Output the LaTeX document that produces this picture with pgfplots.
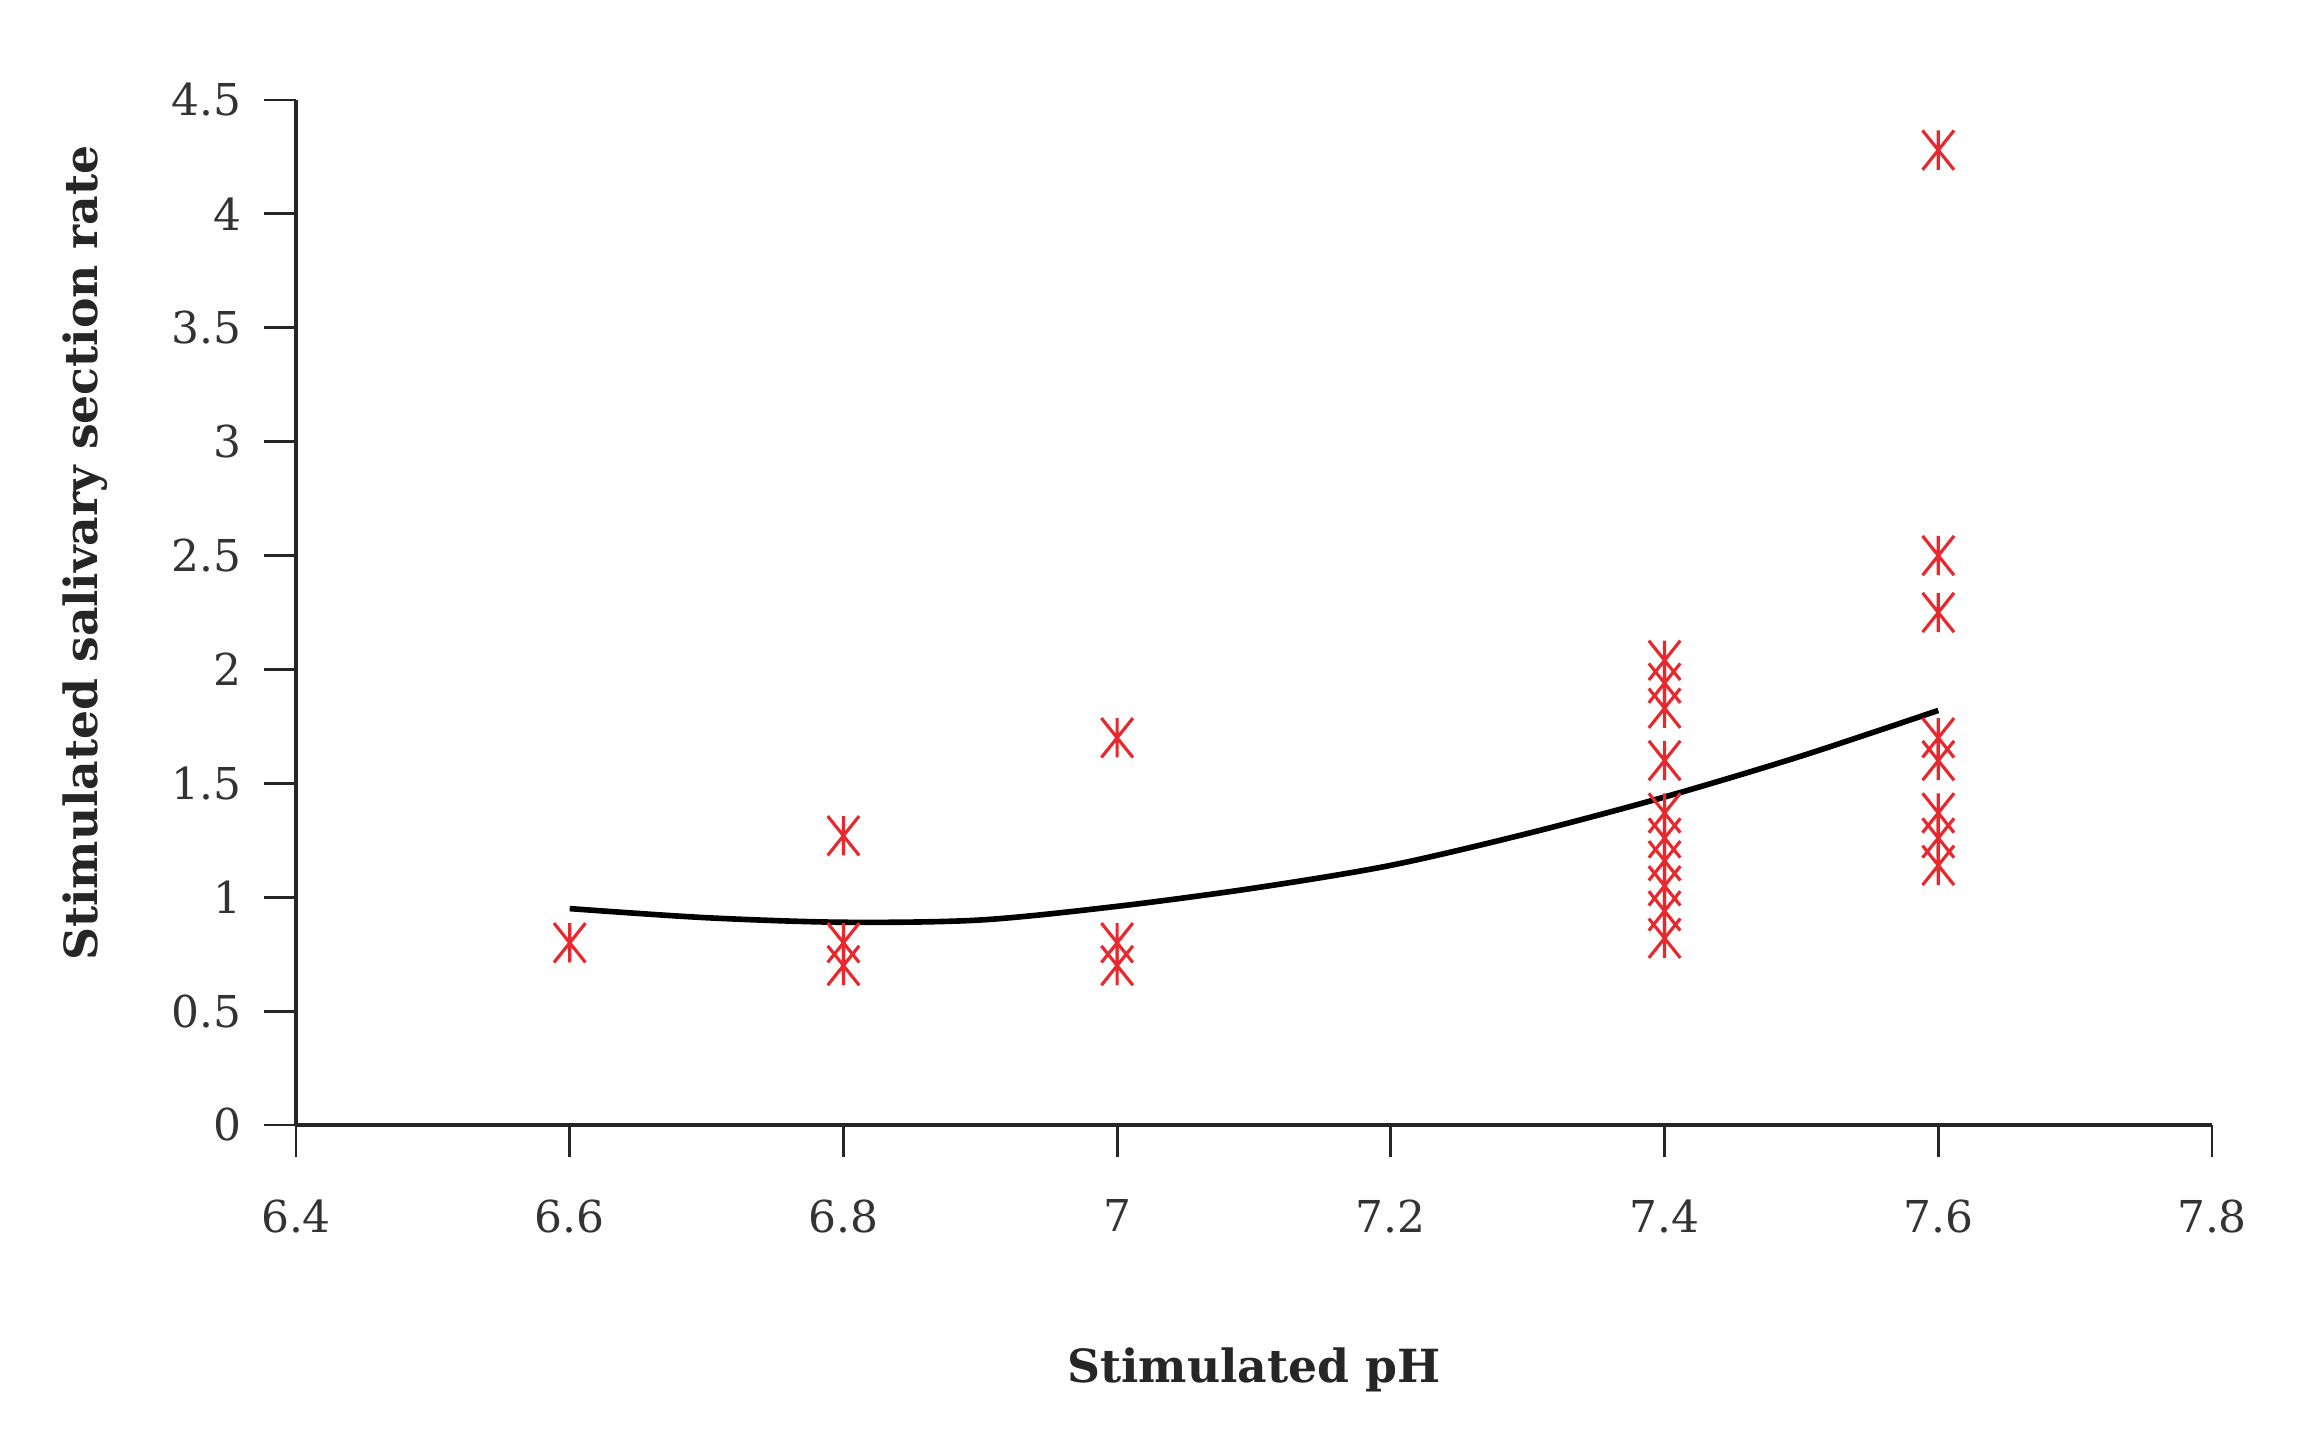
\documentclass[border=0pt]{standalone}
\usepackage{pgfplots}
\pgfplotsset{compat=1.18}
\usepackage{fontspec}
\setmainfont{DejaVu Serif}

\definecolor{markred}{RGB}{232,40,44}

% asterisk with a vertical bar and two 45 degree diagonals
\pgfdeclareplotmark{starx}{%
  \pgfpathmoveto{\pgfqpoint{0pt}{-\pgfplotmarksize}}%
  \pgfpathlineto{\pgfqpoint{0pt}{\pgfplotmarksize}}%
  \pgfpathmoveto{\pgfqpoint{-0.8\pgfplotmarksize}{-\pgfplotmarksize}}%
  \pgfpathlineto{\pgfqpoint{0.8\pgfplotmarksize}{\pgfplotmarksize}}%
  \pgfpathmoveto{\pgfqpoint{-0.8\pgfplotmarksize}{\pgfplotmarksize}}%
  \pgfpathlineto{\pgfqpoint{0.8\pgfplotmarksize}{-\pgfplotmarksize}}%
  \pgfusepathqstroke}

\begin{document}
\begin{tikzpicture}
\useasboundingbox (-29.6mm,-31.8mm) rectangle (200.1mm,112.5mm);
\begin{axis}[
  at={(0,0)}, anchor=south west,
  width=191.6mm, height=102.5mm, scale only axis,
  xmin=6.4, xmax=7.8, ymin=0, ymax=4.5,
  xtick={6.4,6.6,...,7.8}, ytick={0,0.5,...,4.5},
  axis x line=bottom, axis y line=left,
  axis line style={-, line width=0.9pt, black!85},
  tick style={line width=0.8pt, black!85},
  tick align=outside, major tick length=3.2mm,
  /pgf/number format/assume math mode=true,
  tick label style={font=\fontsize{12.5}{14}\selectfont, text=black!80},
  xticklabel style={yshift=-3mm},
  yticklabel style={xshift=-1mm},
  xlabel={Stimulated pH},
  ylabel={Stimulated salivary section rate},
  label style={font=\fontsize{13}{15}\selectfont\bfseries, text=black!85},
  xlabel style={at={(axis description cs:0.5,-0.239)}, anchor=center},
  ylabel style={at={(axis description cs:-0.11,0.558)}, anchor=center},
  clip=false,
]
% fitted curve
\addplot[black, line width=1.6pt, smooth, no markers] coordinates {
(6.6,0.95) (6.7,0.91) (6.8,0.89) (6.9,0.90) (7.0,0.96) (7.1,1.04)
(7.2,1.14) (7.3,1.28) (7.4,1.44) (7.5,1.62) (7.6,1.82)
};
% observations
\addplot[only marks, mark=starx, mark size=5.6pt, markred,
  mark options={line width=0.9pt}] coordinates {
(6.6,0.80)
(6.8,1.27) (6.8,0.80) (6.8,0.70)
(7.0,1.70) (7.0,0.80) (7.0,0.70)
(7.4,2.04) (7.4,1.94) (7.4,1.83) (7.4,1.60) (7.4,1.37) (7.4,1.26)
(7.4,1.16) (7.4,1.05) (7.4,0.94) (7.4,0.82)
(7.6,4.28) (7.6,2.50) (7.6,2.25) (7.6,1.70) (7.6,1.60) (7.6,1.37)
(7.6,1.26) (7.6,1.14)
};
\end{axis}
\end{tikzpicture}
\end{document}
